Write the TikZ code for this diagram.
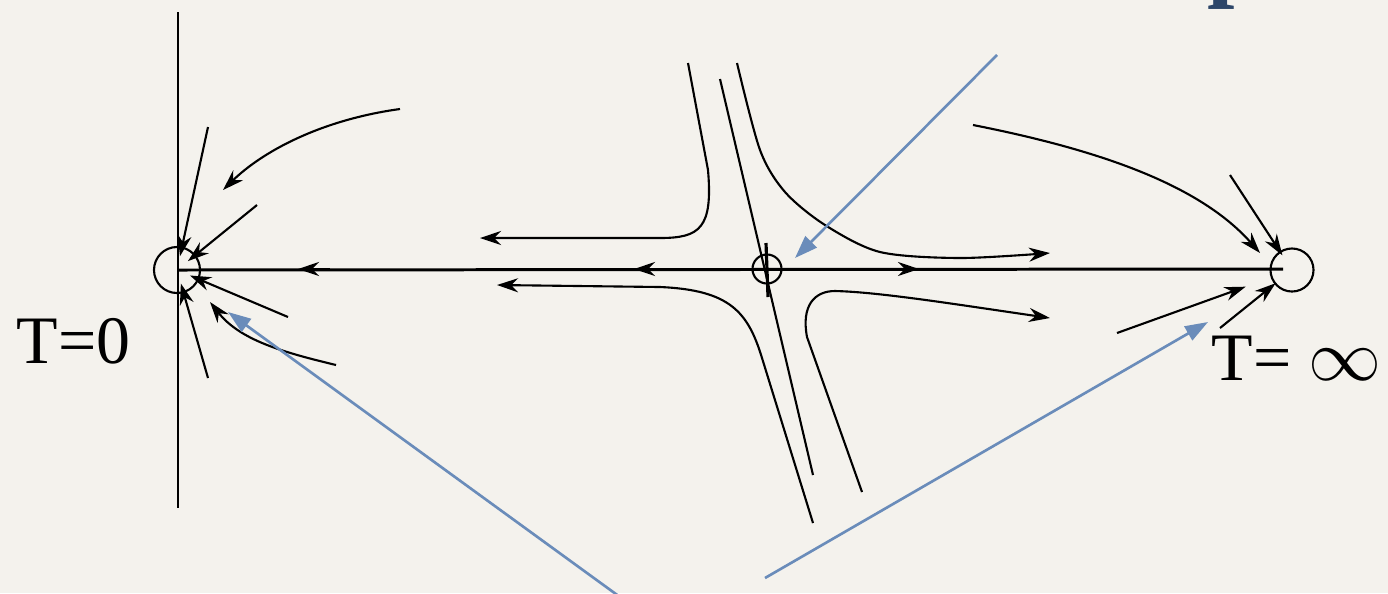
\documentclass[tikz,border=0pt]{standalone}
\usepackage{fontspec}
\setmainfont{Liberation Serif}
\usetikzlibrary{arrows.meta}
\definecolor{paper}{RGB}{244,242,237}
\definecolor{arrowblue}{RGB}{106,140,186}
\definecolor{titleblue}{RGB}{45,70,105}
\tikzset{
  flow/.style={line width=0.6pt, ->, >={Stealth[length=6pt,width=4pt]}},
  axis/.style={line width=0.85pt},
  fixpt/.style={circle, draw, line width=0.6pt, inner sep=0pt},
  pointer/.style={draw=arrowblue, line width=0.75pt, -{Triangle[length=6.5pt,width=4.5pt]}},
  tlabel/.style={font=\fontsize{19.3}{23}\selectfont, inner sep=0pt}
}
\begin{document}
\begin{tikzpicture}[x=0.01cm, y=-0.01cm]
  \useasboundingbox (0,0) rectangle (1388,593);
  \clip (0,0) rectangle (1388,593);
  \fill[paper] (0,0) rectangle (1388,593);

  % Fixed points
  \node[fixpt, minimum size=0.46cm] (fp0) at (177,270) {};
  \node[fixpt, minimum size=0.29cm] (fpc) at (767,269) {};
  \node[fixpt, minimum size=0.43cm] (fpinf) at (1292,270) {};

  % Axes
  \draw[axis] (178,12) -- (178,508);
  \draw[axis] (fp0.center) -- (1283,269);

  % Flow into T=0 (left)
  \foreach \x/\y in {208/127, 257/205, 288/317, 208/378}
    \draw[flow, shorten >=4pt] (\x,\y) -- (fp0.center);
  \draw[flow] (400,109) .. controls (320,120) and (262,152) .. (223,190);
  \draw[flow] (336,365) .. controls (282,352) and (240,340) .. (210,302);

  % Flow along the axis
  \draw[flow] (330,269) -- (298,269);
  \draw[flow] (668,269) -- (634,269);
  \draw[flow] (885,269) -- (919,269);

  % Saddle point (middle)
  \draw[flow] (688,63) -- (708,170) .. controls (713,228) and (700,238) .. (660,238) -- (480,238);
  \draw[flow] plot[smooth] coordinates {(737,63) (760,150) (785,192) (825,225) (880,252) (960,258) (1050,253)};
  \draw[flow] (813,523) -- (762,358) .. controls (748,312) and (730,290) .. (660,287) -- (497,285);
  \draw[flow] (862,492) -- (807,337) .. controls (801,305) and (815,291) .. (835,291) .. controls (880,292) and (960,305) .. (1050,318);
  \draw[line width=0.6pt] (720,79) -- (813,475);
  \draw[line width=0.9pt] (766,243) -- (768,297);

  % Flow into T=infinity (right)
  \draw[flow] (973,125) .. controls (1100,150) and (1200,185) .. (1260,253);
  \foreach \x/\y/\s in {1230/175/5pt, 1117/333/14pt, 1220/328/6pt}
    \draw[flow, shorten >=\s] (\x,\y) -- (fpinf.center);

  % Labels
  \node[tlabel, anchor=base west] (t0) at (16,363) {T=0};
  \node[tlabel, anchor=base west] (tinf) at (1211,380) {T= $\infty$};
  \node[font=\fontsize{28}{32}\bfseries, text=titleblue, anchor=base west, inner sep=0pt] (title) at (1207,-12) {p};

  % Pointers
  \draw[pointer] (997,55) -- ([shift={(28,-11)}]fpc.center);
  \draw[pointer] (620,597) -- ([shift={(51,42)}]fp0.center);
  \draw[pointer] (765,578) -- ([shift={(-84,52)}]fpinf.center);
\end{tikzpicture}
\end{document}
